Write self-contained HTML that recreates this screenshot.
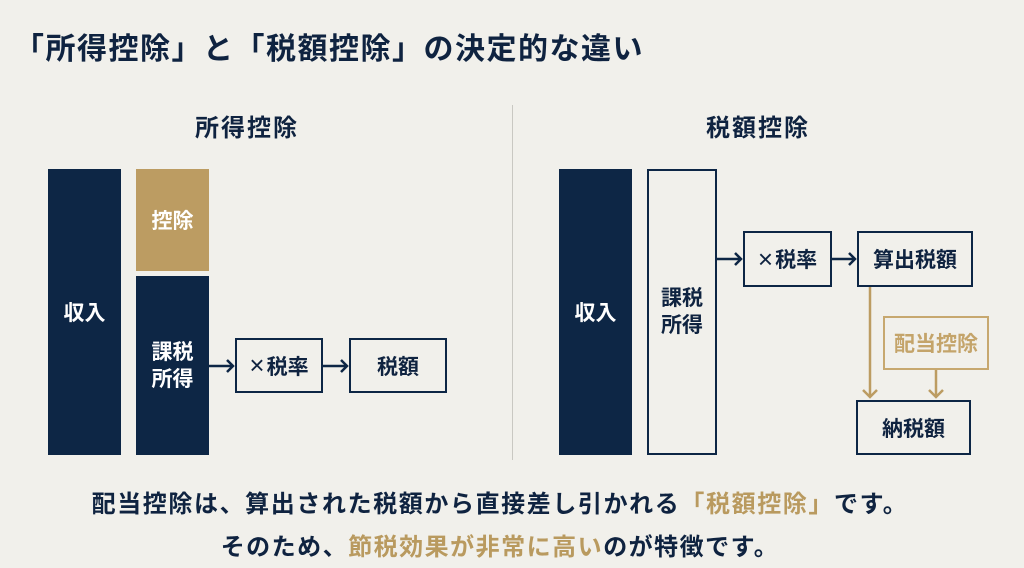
<!DOCTYPE html>
<html><head><meta charset="utf-8"><style>
body{margin:0;width:1024px;height:568px;background:#f1f0eb;font-family:"Liberation Sans","Noto Sans CJK JP",sans-serif;color:#0f2340;position:relative;overflow:hidden;font-weight:bold}
.a{position:absolute;box-sizing:border-box;display:flex;align-items:center;justify-content:center;text-align:center}
.n{background:#0d2645;color:#fff}
.o{border:2px solid #0d2645;background:#f1f0eb;color:#0f2340}
.t{position:absolute;white-space:nowrap}
.g{color:#b99a5f}
.x{font-size:26px;font-weight:normal;margin-right:2px}
</style></head><body>
<div class="t" style="left:14px;top:24px;font-size:30px;letter-spacing:1.5px">「所得控除」と「税額控除」の決定的な違い</div>
<div class="t" style="left:147px;width:200px;text-align:center;top:108px;font-size:24px;letter-spacing:2px">所得控除</div>
<div class="t" style="left:658px;width:200px;text-align:center;top:108px;font-size:24px;letter-spacing:2px">税額控除</div>
<div style="position:absolute;left:512px;top:105px;width:1px;height:355px;background:#c9c8c2"></div>

<div class="a n" style="left:48px;top:169px;width:73px;height:286px;font-size:21px">収入</div>
<div class="a" style="left:136px;top:169px;width:73px;height:102px;background:#bc9c62;color:#fff;font-size:21px">控除</div>
<div class="a n" style="left:136px;top:276px;width:73px;height:179px;font-size:21px;line-height:27px">課税<br>所得</div>
<div class="a o" style="left:235px;top:338px;width:88px;height:55px;font-size:21px"><span class="x">×</span>税率</div>
<div class="a o" style="left:349px;top:338px;width:98px;height:55px;font-size:21px">税額</div>

<div class="a n" style="left:559px;top:169px;width:73px;height:286px;font-size:21px">収入</div>
<div class="a o" style="left:647px;top:169px;width:70px;height:286px;font-size:21px;line-height:27px">課税<br>所得</div>
<div class="a o" style="left:743px;top:231px;width:89px;height:56px;font-size:21px"><span class="x">×</span>税率</div>
<div class="a o" style="left:857px;top:231px;width:116px;height:56px;font-size:21px">算出税額</div>
<div class="a" style="left:883px;top:316px;width:106px;height:54px;border:2px solid #c7a86f;color:#c4a46a;font-size:21px">配当控除</div>
<div class="a o" style="left:856px;top:400px;width:115px;height:55px;font-size:21px">納税額</div>

<svg width="1024" height="568" style="position:absolute;left:0;top:0" fill="none" stroke-width="2.5">
<g stroke="#0d2645">
<path d="M209 366H233M227 360l6 6-6 6"/>
<path d="M323 366H347M341 360l6 6-6 6"/>
<path d="M717 259H741M735 253l6 6-6 6"/>
<path d="M832 259H855M849 253l6 6-6 6"/>
</g>
<g stroke="#bc9c62">
<path d="M870 287V397M863 390l7 7 7-7"/>
<path d="M936 370V397M929 390l7 7 7-7"/>
</g>
</svg>

<div class="t" style="left:0;width:1000px;text-align:center;top:484px;font-size:24px;letter-spacing:1.6px">配当控除は、算出された税額から直接差し引かれる<span class="g">「税額控除」</span>です。</div>
<div class="t" style="left:0;width:1000px;text-align:center;top:527px;font-size:24px;letter-spacing:1.5px">そのため、<span class="g">節税効果が非常に高い</span>のが特徴です。</div>
</body></html>
